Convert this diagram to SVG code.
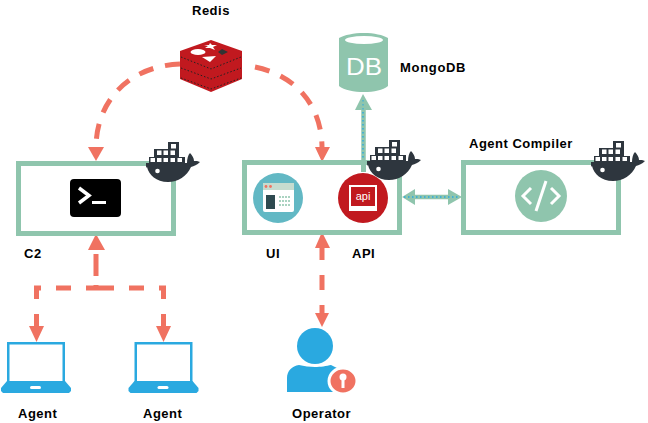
<svg xmlns="http://www.w3.org/2000/svg" width="648" height="423" viewBox="0 0 648 423">
<style>
.box{fill:#fff;stroke:#8fc5ad;stroke-width:5}
.lbl{font-family:"Liberation Sans",Arial,sans-serif;font-weight:bold;font-size:13px;letter-spacing:.5px;fill:#000}
.red{fill:none;stroke:#f07261;stroke-width:5}
.redh{fill:#f07261}
.teal{fill:none;stroke:#8fc5ad;stroke-width:4.5}
.tealh{fill:#8fc5ad}
.dots{fill:none;stroke:#2aa9e0;stroke-width:1.400;stroke-dasharray:1.500 2.500}
.lap{fill:#2aa9e0}
</style>
<defs>
<g id="whale">
<path fill="#2e363e" d="M3 15h5V7h14V0h11v15h6v6h2c0-4 1-8 3-10 2 2 4 5 4 8h3l3 1c-3 3-6 4-9 5-4 9-13 15-23 15-12 0-19-7-21-15C0 27 0 24 0 21h3z"/>
<g fill="#fff">
<rect x="4.500" y="16" width="4.500" height="4"/><rect x="11" y="16" width="4.500" height="4"/><rect x="17.500" y="16" width="4.500" height="4"/><rect x="24.500" y="16" width="4.500" height="4"/><rect x="31.500" y="16" width="4.500" height="4"/>
<rect x="11" y="8.500" width="4.500" height="4.500"/><rect x="17.500" y="8.500" width="4.500" height="4.500"/><rect x="24.500" y="8.500" width="4.500" height="4.500"/>
<rect x="25" y="2" width="5" height="4.500"/>
<circle cx="11.500" cy="29" r="2.300"/>
</g>
</g>
<g id="laptop">
<path class="lap" fill-rule="evenodd" d="M7 342h58v40h-58zM9.500 344.500v37h53v-37z"/>
<path class="lap" d="M7 381h58l6 7v3l-2 2H3l-2-2v-3z"/>
<rect x="30" y="386" width="11" height="3" rx="1.500" fill="#fff"/>
</g>
</defs>

<g id="connectors">
<path class="red" stroke-dasharray="15 12" d="M180 64C130 66 96 100 96 148"/>
<path class="red" stroke-dasharray="15 12" d="M255 67C295 75 322 105 322 148"/>
<polygon class="redh" points="88,147 104,147 96,161"/>
<polygon class="redh" points="315,147 330,147 322,162"/>
<path class="red" d="M322 172V187M322 202V217M322 246V260M322 275V290M322 305V315"/>
<polygon class="redh" points="322,232 315,248 330,248"/>
<polygon class="redh" points="315,313 329,313 322,327"/>
<polygon class="redh" points="96,234 88,250 105,250"/>
<path class="red" d="M96 254V276M96 285V290"/>
<path class="red" d="M34 288h7M56 288h15M86 288h28M129 288h15M159 288h7M36.500 286V299M36.500 314V328M163.500 286V299M163.500 314V328"/>
<polygon class="redh" points="29,326 44,326 36.500,342"/>
<polygon class="redh" points="156,326 171,326 163.500,342"/>
<path class="teal" d="M363.500 108V172"/>
<path class="dots" d="M363 100V160"/>
<polygon class="tealh" points="363,94 355,110 372,110"/>
<path class="dots" d="M363 100V110" style="stroke-width:1"/>
<path class="teal" d="M412 197H452"/>
<polygon class="tealh" points="402,197 415,189 415,205"/>
<polygon class="tealh" points="462,197 448,189 448,205"/>
<path class="dots" d="M404 197H460"/>
</g>

<g id="redis">
<path fill="#c1191f" d="M180 51l31-11 31 11v28l-31 13-31-13z"/>
<path d="M181 57l30 12 30-12M181 68l30 11 30-11M181 78l30 11 30-11" fill="none" stroke="#222" stroke-width="1" stroke-dasharray="1.500 2"/>
<ellipse cx="198" cy="52" rx="7.500" ry="3" fill="#fff"/>
<polygon points="210,43 212,45 217,45 213,47 215,50 210,48 205,48 208,46 204,45 209,45" fill="#fff"/>
<polygon points="202,57 216,56 210,62" fill="#fff"/>
<polygon points="222,49 228,52 222,55 218,52" fill="#333"/>
<text class="lbl" x="192" y="15">Redis</text>
</g>

<g id="mongodb">
<path class="tealh" d="M339 38c5-3 15-5 25-5s19 2 24 5v48c-5 4-14 6-24 6s-20-2-25-6z"/>
<ellipse cx="364" cy="40" rx="19" ry="4" fill="#fff"/>
<text x="346" y="75" font-family="'Liberation Sans',Arial,sans-serif" font-size="24" fill="#fff" textLength="36" lengthAdjust="spacingAndGlyphs">DB</text>
<text class="lbl" x="400" y="72" textLength="66">MongoDB</text>
</g>

<g id="c2">
<rect class="box" x="18.500" y="163.500" width="155" height="70"/>
<rect x="70" y="179" width="51" height="38" rx="4" fill="#000"/>
<path d="M79 188l10 7.500-10 7.500" fill="none" stroke="#fff" stroke-width="3.500"/>
<rect x="92" y="201" width="14" height="3" fill="#fff"/>
<use href="#whale" x="146" y="142"/>
<text class="lbl" x="24" y="258">C2</text>
</g>

<g id="ui-api">
<rect class="box" x="244.500" y="162.500" width="155" height="70" fill="none"/>
<circle cx="278" cy="198" r="25" fill="#62b8c4"/>
<rect x="263" y="183" width="31" height="29" rx="2" fill="#fff"/>
<rect x="263" y="183" width="31" height="7" fill="#c5dccf"/>
<circle cx="266" cy="186.500" r="1.400" fill="#f07261"/><circle cx="270.500" cy="186.500" r="1.400" fill="#f07261"/>
<rect x="266" y="195" width="9" height="14" fill="#2e4a50"/>
<path d="M279 197h11M279 201h11M279 205h11" stroke="#8fc5ad" stroke-width="1.500" stroke-dasharray="2 1"/>
<path d="M363.500 160V172" stroke="#8fc5ad" stroke-width="5"/>
<circle cx="363" cy="198" r="25" fill="#c1191f"/>
<rect x="349" y="185" width="28" height="26" fill="#fff"/>
<rect x="351" y="187" width="24" height="19" fill="#c1191f"/>
<text x="363" y="200" text-anchor="middle" font-family="'Liberation Sans',Arial,sans-serif" font-size="11" fill="#fff">api</text>
<use href="#whale" x="367" y="140"/>
<text class="lbl" x="266" y="258">UI</text>
<text class="lbl" x="352" y="258">API</text>
</g>

<g id="agent-compiler">
<rect class="box" x="463.500" y="162.500" width="155" height="70"/>
<circle cx="541" cy="196" r="26" fill="#8fc5ad"/>
<path d="M531 188l-8 8 8 8M551 188l8 8-8 8M546 181l-10 30" fill="none" stroke="#fff" stroke-width="3"/>
<use href="#whale" x="591" y="141"/>
<text class="lbl" x="469" y="148">Agent Compiler</text>
</g>

<g id="agent1">
<use href="#laptop"/>
<text class="lbl" x="18" y="418">Agent</text>
</g>
<g id="agent2">
<use href="#laptop" x="127.500"/>
<text class="lbl" x="143" y="418">Agent</text>
</g>

<g id="operator">
<circle cx="315" cy="346" r="18" fill="#2aa9e0"/>
<path fill="#2aa9e0" d="M287 392v-14c0-7 5-12 12-13 5 1 11 2 16 2s12-1 16-2l6 3v24z"/>
<ellipse cx="343" cy="381" rx="14" ry="13" fill="#f07261" stroke="#fff" stroke-width="3"/>
<circle cx="343" cy="377" r="3.500" fill="#fff"/>
<rect x="341.500" y="378" width="3" height="10" fill="#fff"/>
<text class="lbl" x="292" y="418" textLength="59">Operator</text>
</g>
</svg>
